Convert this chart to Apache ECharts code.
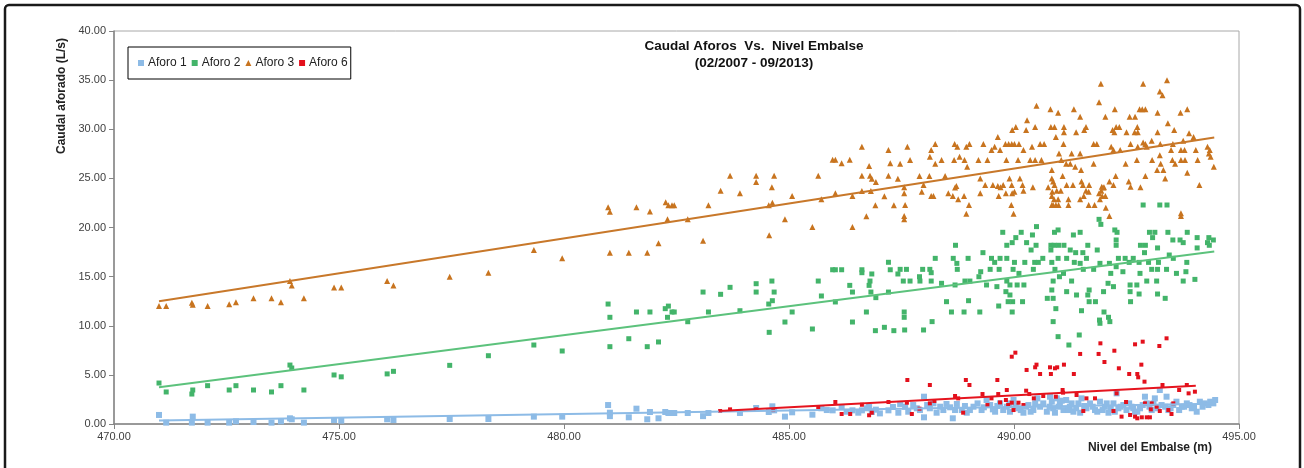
<!DOCTYPE html>
<html><head><meta charset="utf-8">
<script src="https://cdn.jsdelivr.net/npm/echarts@6/dist/echarts.min.js"></script>
<style>html,body{margin:0;padding:0;background:#fff}#c{width:1304px;height:468px}</style>
</head><body><div id="c"></div>
<script>
const titleLines = ['Caudal Aforos  Vs.  Nivel Embalse', '(02/2007 - 09/2013)'];
const yAxisTitle = 'Caudal aforado (L/s)';
const xAxisTitle = 'Nivel del Embalse (m)';
const seriesNames = ['Aforo 1', 'Aforo 2', 'Aforo 3', 'Aforo 6'];
const xTicks = [470, 475, 480, 485, 490, 495];
const yTicks = [0, 5, 10, 15, 20, 25, 30, 35, 40];

const aforo1 = [
[471.0,0.92],[471.16,0.14],[471.73,0.14],[471.75,0.75],[472.08,0.14],[472.56,0.14],[472.71,0.27],[473.1,0.2],[473.5,0.14],[473.71,0.27],[473.91,0.58],[473.95,0.48],[474.22,0.14],[474.89,0.41],[475.05,0.34],[476.07,0.48],[476.21,0.41],[477.46,0.51],[478.32,0.51],[479.33,0.75],
[479.96,0.75],[480.98,1.93],[481.02,1.15],[481.02,0.8],[481.44,0.68],[481.61,1.56],[481.85,0.48],[481.91,1.22],[482.1,0.58],[482.25,1.22],[482.32,1.12],[482.4,1.12],[482.45,1.12],[482.75,1.12],[483.09,0.8],[483.21,1.12],[483.91,1.12],[484.27,1.63],[484.55,1.22],[484.63,1.8],[484.67,1.39],[484.91,0.75],[485.07,1.19],[485.52,0.95],[485.72,1.6],[485.97,1.39],[486.17,1.73],[486.41,1.39],[486.62,1.39],[486.78,1.73],[486.84,1.22],[486.93,1.46],[487.21,1.39],[487.31,1.73],
[485.84,1.42],[486.28,1.25],[486.54,1.15],[486.73,1.6],[487.02,1.08],[487.43,1.15],
[487.47,2.04],[487.58,1.76],[487.76,1.93],[487.91,1.42],[488.0,2.78],[488.0,0.68],[488.13,1.6],[488.21,2.1],[488.28,1.15],[488.43,1.42],[488.58,1.7],[488.64,0.58],[488.73,2.04],[488.84,1.42],[488.95,1.15],[489.1,1.76],[489.28,1.42],[489.39,2.44],[489.47,1.93],[489.58,1.25],[489.69,2.1],[489.84,1.76],[489.91,1.25],[489.99,2.44],[490.1,1.6],[490.21,1.15],[490.32,1.93],[490.43,1.42],[490.52,2.61],[490.58,1.76],[490.73,1.25],[490.8,2.78],[490.84,2.27],[490.87,1.6],[490.95,2.61],[491.02,2.1],[491.1,1.42],[491.16,2.44],[491.24,1.76],[491.32,1.25],[491.43,2.1],[491.5,2.61],[491.61,1.6],[491.69,2.1],[491.8,1.42],[491.91,2.27],[492.02,1.76],[492.1,1.15],[492.21,2.1],[492.28,3.12],[492.32,1.6],[492.43,1.93],[492.5,1.42],[492.61,1.76],[492.69,1.25],[492.8,1.6],[492.91,2.78],[492.95,2.1],[493.06,1.42],[493.13,2.61],[493.24,3.46],[493.28,1.93],[493.39,2.78],[493.43,1.42],[493.54,1.93],[493.61,2.27],[493.73,1.76],[493.84,2.1],[493.95,1.6],[494.06,1.25],[494.13,2.27],[494.24,2.1],[494.36,2.27],[494.43,2.1],
[487.65,1.25],[487.84,1.6],[488.07,1.93],[488.36,1.76],[488.5,2.04],[488.69,1.42],[488.91,1.83],[489.02,1.42],[489.19,2.1],[489.33,1.7],[489.53,1.49],[489.63,1.83],[489.76,1.42],[489.9,2.1],[490.04,1.83],[490.15,1.42],[490.27,1.76],[490.37,1.25],[490.47,2.1],[490.65,2.1],[490.79,1.76],[490.91,1.15],[490.99,1.76],[491.06,2.37],[491.21,1.42],[491.28,2.1],[491.38,1.6],[491.47,1.15],[491.56,1.83],[491.75,1.76],[491.85,1.25],[491.97,1.42],[492.06,2.1],[492.15,1.6],[492.24,1.25],[492.37,1.76],[492.56,2.1],[492.65,1.6],[492.74,1.25],[492.86,1.93],[493.01,1.76],[493.1,2.1],[493.19,1.6],[493.36,1.76],[493.48,1.6],[493.67,1.42],[493.78,1.76],[493.9,1.93],[494.0,1.76],[494.19,1.76],[494.32,1.93],[494.47,2.44]
];

const aforo2 = [
[471.0,4.17],[471.16,3.26],[471.73,3.05],[471.75,3.46],[472.08,3.9],[472.56,3.46],[472.71,3.9],[473.1,3.46],[473.5,3.26],[473.71,3.9],[473.91,6.0],[473.95,5.7],[474.22,3.46],[474.89,4.99],[475.05,4.8],[476.07,5.1],[476.21,5.36],[477.46,5.97],[478.32,6.95],[479.33,8.04],
[479.96,7.43],[480.98,12.21],[481.02,10.86],[481.02,7.87],[481.44,8.68],[481.61,11.4],[481.85,7.87],[481.91,11.4],[482.1,8.35],[482.25,11.74],[482.32,12.0],[482.3,10.86],[482.4,11.4],[482.45,11.4],[482.75,10.41],[483.09,13.43],[483.21,11.4],[483.48,13.2],[483.69,13.91],[483.91,11.53],[484.27,14.28],[484.27,13.43],[484.56,9.33],[484.55,12.21],[484.63,12.55],[484.62,14.55],[484.67,13.43],[484.91,10.38],[485.07,11.4],[485.52,9.67],[485.65,14.55],[485.72,13.03],[485.97,15.7],[486.03,15.7],[486.03,12.42],[486.17,15.7],[486.35,14.11],[486.41,13.43],[486.41,10.38],[486.62,15.7],[486.62,15.4],[486.72,11.4],[486.78,14.11],[486.8,14.55],[486.84,15.27],[486.82,13.43],[486.92,9.5],[486.93,12.86],[487.12,9.84],[487.21,16.46],[487.21,13.43],[487.25,15.7],[487.33,9.5],[487.42,15.27],[487.9,14.99],[488.16,15.4],
[492.87,22.29],[493.24,22.29],[493.4,22.29],[491.89,20.83],[491.93,20.32],[490.5,20.09],[489.75,19.51],[490.04,18.97],[490.16,19.51],[490.41,19.24],[490.9,19.51],[490.98,19.75],[491.32,19.24],[491.47,19.51],[492.24,19.75],[492.29,19.51],[493.01,19.51],[493.13,19.51],[493.42,19.51],[493.85,19.51],[493.69,18.73],[494.07,18.97],[494.33,18.97],[494.43,18.73],[489.84,18.19],[489.96,18.46],[490.28,18.46],[490.49,18.19],[490.82,18.19],[490.89,18.19],[490.99,18.19],[491.11,18.19],[491.64,18.19],[492.27,18.73],[492.27,18.19],[492.81,18.19],[492.92,18.19],[493.08,18.97],[493.53,18.73],[493.76,18.46],[488.7,18.19],[489.31,17.44],[490.38,17.71],[490.82,17.71],[491.25,17.71],[491.37,17.44],[491.53,17.44],[491.85,17.71],[492.9,17.44],[493.19,17.92],[494.07,17.92],[494.34,18.19],[494.3,18.46],
[488.25,16.86],[488.65,16.86],[488.73,16.35],[488.98,16.86],[489.5,16.86],[489.57,16.45],[489.69,16.86],[489.84,16.86],[490.01,16.45],[490.24,16.45],[490.46,16.45],[490.54,16.45],[490.64,16.86],[490.84,16.45],[490.98,16.86],[491.17,16.86],[491.34,16.45],[491.47,16.35],[491.61,16.86],[491.91,16.35],[492.12,16.35],[492.32,16.86],[492.47,16.86],[492.56,16.45],[492.65,16.86],[492.78,16.45],[492.99,16.45],[493.21,16.45],[493.45,17.2],[493.54,16.86],[493.84,16.45],[492.27,16.01],
[487.47,15.74],[487.61,15.74],[487.97,15.74],[488.13,15.74],[488.74,15.74],[489.26,15.5],[489.47,15.74],[489.67,15.74],[489.98,15.74],[490.11,15.33],[490.43,15.74],[490.91,15.74],[491.1,15.33],[491.54,15.74],[491.77,15.74],[492.15,15.33],[492.42,15.5],[492.8,15.33],[493.06,15.74],[493.19,15.74],[493.39,15.74],[493.61,15.33],[493.82,15.5],
[487.54,14.55],[487.69,14.55],[487.91,14.55],[488.16,14.55],[488.39,14.32],[488.69,14.15],[488.91,14.55],[489.02,14.55],[489.22,14.99],[489.39,14.15],[489.62,13.98],[489.84,14.55],[489.91,14.15],[490.07,14.15],[490.22,14.15],[490.87,14.55],[491.01,14.99],[491.28,14.55],[491.67,13.64],[492.09,14.32],[492.21,13.98],[492.58,14.15],[492.73,14.15],[492.95,14.55],[493.17,14.55],[493.76,14.55],[494.02,14.72],
[489.82,13.47],[489.91,13.13],[490.84,13.64],[491.17,13.47],[490.87,12.79],[491.39,13.13],[491.64,13.13],[491.67,12.45],[491.99,13.47],[492.58,13.47],[492.78,13.23],[493.19,13.23],[493.36,12.79],[488.5,12.45],[488.99,12.55],[489.66,12.01],[489.87,12.45],[489.97,12.45],[490.19,12.45],[490.74,12.79],[491.81,12.45],[492.59,12.45],
[487.56,11.4],[487.56,10.86],[488.61,11.4],[488.89,11.4],[489.24,11.4],[489.96,11.4],[490.93,11.74],[491.5,11.53],[492.0,11.4],[492.1,10.86],[491.9,10.58],[491.91,10.25],[492.13,10.42],[490.87,10.42],[488.18,10.42],[487.57,9.57],[487.99,9.57],
[490.98,8.89],[491.45,9.06],[491.22,8.04]
];

const aforo3 = [
[471.0,12.0],[471.16,12.0],[471.73,12.35],[471.75,12.15],[472.08,12.0],[472.56,12.2],[472.71,12.4],[473.1,12.8],[473.5,12.8],[473.71,12.4],[473.91,14.55],[473.95,14.1],[474.22,12.8],[474.89,13.9],[475.05,13.9],[476.07,14.55],[476.21,14.1],[477.46,15.0],[478.32,15.4],[479.33,17.7],
[479.96,16.86],[481.02,17.44],[481.44,17.44],[481.85,17.44],[482.1,18.39],[483.09,18.66],[484.56,19.2],
[480.98,22.05],[481.02,21.61],[481.61,22.05],[481.91,21.64],[482.26,22.56],[482.32,22.26],[482.3,20.83],[482.4,22.26],[482.45,22.26],[482.75,20.83],[483.21,22.26],[483.48,23.75],[483.69,25.27],[483.91,23.48],[484.27,25.27],[484.27,24.63],[484.55,22.26],[484.63,22.53],[484.62,24.09],[484.67,25.27],[484.91,20.83],[485.07,23.21],[485.52,20.05],[485.65,25.27],[485.72,22.87],[485.97,26.9],[486.03,26.9],[486.03,23.48],[486.17,26.53],[486.35,26.9],[486.41,23.21],[486.41,20.05],[486.62,28.22],[486.62,25.27],[486.62,23.72],[486.72,21.14],[486.78,26.26],[486.8,25.27],[486.84,24.97],[486.82,23.72],[486.92,22.26],[486.93,24.63],[487.12,23.17],[487.21,27.89],[487.21,25.27],[487.25,26.53],[487.33,22.26],[487.42,24.97],
[491.93,34.64],[492.87,34.64],[493.4,34.98],[493.24,33.83],[493.3,33.45],[491.89,32.74],[490.5,32.4],[490.81,32.03],[490.98,31.69],[491.33,32.03],[491.47,31.28],[492.24,32.03],[492.03,31.28],[492.57,31.28],[492.69,31.28],[492.79,32.03],[492.85,32.03],[492.92,32.03],[493.19,31.69],[493.7,31.69],[493.85,32.03],
[490.29,30.91],[490.04,30.23],[489.96,29.92],[490.27,29.92],[490.47,30.23],[490.82,30.23],[490.9,30.23],[491.11,30.23],[491.38,29.69],[491.56,29.92],[491.6,30.23],[490.93,29.21],[491.11,29.69],[489.64,29.21],[492.19,29.92],[492.27,30.23],[492.34,30.23],[492.23,29.69],[492.5,29.69],[492.68,29.69],[492.74,30.23],[492.75,29.69],[493.19,29.69],[493.42,30.6],[493.56,29.92],[493.89,29.59],[493.99,29.21],
[487.63,28.23],[488.25,28.5],[488.16,27.89],[488.68,28.5],[488.74,28.23],[488.94,28.23],[489.01,28.5],[489.32,28.5],[489.5,27.89],[489.57,28.23],[489.69,27.89],[489.81,28.5],[489.88,28.5],[489.95,28.5],[490.01,28.5],[490.11,28.5],[490.21,27.89],[490.4,28.23],[490.58,28.5],[490.67,28.5],[491.0,27.52],[491.1,28.5],[491.28,27.52],[491.47,27.52],[491.77,28.5],[491.84,28.5],[492.16,28.23],[492.21,27.89],[492.36,27.89],[492.59,28.5],[492.75,28.23],[492.87,28.64],[492.92,28.5],[493.06,28.84],[492.95,28.23],[493.25,28.5],[493.53,28.5],[493.76,28.84],[493.49,27.89],[493.71,27.89],[493.79,27.89],[494.04,27.89],[494.3,28.23],[494.35,27.89],[494.33,27.52],[494.37,27.21],
[487.47,26.5],[487.69,26.87],[488.13,27.21],[488.25,26.5],[488.39,26.87],[488.67,26.87],[488.79,27.21],[488.9,26.87],[488.96,26.19],[489.21,26.87],[489.41,26.87],[489.83,26.87],[490.09,26.87],[490.36,26.87],[490.47,26.87],[490.61,26.87],[490.84,25.85],[491.05,26.87],[491.16,26.5],[491.25,26.5],[491.36,26.19],[491.49,25.85],[491.77,26.5],[492.48,26.5],[492.73,26.87],[493.07,26.87],[493.24,27.35],[493.26,26.5],[493.18,25.85],[493.32,25.85],[493.52,26.87],[493.58,26.5],[493.71,26.87],[493.8,26.87],[493.85,25.58],[494.08,26.87],[494.44,26.19],
[487.9,25.24],[488.12,25.24],[488.47,25.24],[489.25,25.0],[488.72,24.23],[488.69,24.06],[489.36,24.33],[489.53,24.33],[489.64,24.23],[489.7,24.09],[489.76,24.33],[489.9,25.0],[489.95,24.33],[490.13,25.0],[490.19,24.33],[490.42,24.09],[490.76,24.09],[490.84,25.0],[490.87,24.67],[490.9,24.33],[491.08,25.24],[491.17,24.33],[491.31,24.33],[491.5,24.67],[491.53,24.33],[491.67,24.33],[491.95,24.16],[492.0,24.09],[492.12,24.67],[492.21,24.33],[492.26,25.24],[492.55,24.67],[492.59,24.16],[492.81,24.09],[492.92,25.24],[493.36,25.0],[494.12,24.33],[487.56,24.09],[487.99,24.33],
[487.56,23.48],[487.95,23.65],[488.16,23.21],[488.21,23.21],[488.54,23.48],[488.64,23.21],[488.76,22.87],[488.89,23.21],[489.25,23.48],[489.66,23.21],[489.82,23.48],[489.96,23.48],[490.01,23.65],[490.21,23.75],[490.85,23.65],[490.95,23.75],[491.04,23.75],[490.84,23.21],[490.98,22.87],[490.89,22.87],[491.21,22.87],[491.47,22.87],[491.55,23.21],[491.6,23.75],[491.66,23.65],[491.89,23.48],[491.96,23.21],[491.91,22.87],[492.03,23.21],[491.94,23.75],[491.98,24.06],
[487.58,22.29],[487.56,21.17],[487.56,20.83],[489.0,22.29],[488.94,21.41],[489.94,22.29],[489.99,21.41],[490.84,22.29],[490.87,22.29],[490.93,22.29],[490.99,22.29],[491.21,22.29],[491.66,22.29],[491.79,22.29],[492.04,22.02],[492.12,21.17],[493.71,21.17],[493.71,21.44]
];

const aforo6 = [
[483.47,1.32],[483.69,1.49],[484.27,1.49],[484.65,1.42],[485.65,1.7],[486.03,2.24],[486.17,1.02],[486.36,1.02],[486.62,1.96],[486.78,0.89],[486.84,1.15],[487.21,2.24],[487.9,1.56],
[487.63,4.48],[488.13,3.97],[488.93,4.48],[489.01,3.97],[489.63,4.48],[489.84,3.46],[489.95,6.85],[490.03,7.26],[490.28,5.5],[490.47,5.77],[490.5,6.04],[490.58,5.09],[490.8,5.77],[490.82,5.09],[490.91,5.67],[490.96,5.77],[491.11,6.04],[491.33,5.09],[491.47,7.13],[491.88,7.13],[491.92,8.21],[492.01,6.31],[492.23,7.46],[492.33,5.67],[492.56,5.09],[492.69,8.11],[492.74,5.09],[492.76,4.75],[492.83,6.04],[492.86,8.38],[492.9,4.31],[493.23,7.94],[493.39,8.72],[493.3,3.97],[493.67,3.46],[493.84,3.97],[493.88,3.12],[494.02,3.29],[490.27,3.39],[491.08,3.46],[491.39,2.95],[492.28,3.12],
[487.62,2.17],[487.73,1.02],[488.13,2.1],[488.23,2.34],[488.69,2.85],[488.76,2.61],[488.87,1.15],[489.3,3.05],[489.41,1.93],[489.5,2.61],[489.65,3.05],[489.69,2.2],[489.82,2.44],[489.87,1.93],[489.95,2.17],[489.99,1.42],[490.1,2.17],[490.21,1.93],[490.34,3.05],[490.44,2.61],[490.65,2.85],[490.93,2.78],[491.09,3.19],[491.54,1.32],[491.61,2.61],[491.8,2.61],[492.21,1.32],[492.39,0.75],[492.49,2.24],[492.58,0.92],[492.69,0.75],[492.74,0.58],[492.84,0.68],[492.95,0.68],[493.02,0.68],[492.91,2.1],[493.04,1.49],[493.17,1.76],[493.24,1.32],[493.43,1.42],[493.5,1.02],[493.54,2.1],[493.06,2.1]
];

// trendline endpoints
const trend1 = [[471.0,0.35],[494.45,2.05]];
const trend2 = [[471.0,3.73],[494.45,17.55]];
const trend3 = [[471.0,12.5],[494.45,29.15]];
const trend6 = [[483.44,1.32],[494.04,3.9]];

const colors = {
  a1: '#8DBBE6', a2: '#43B46A', a3: '#C8741F', a6: '#E3101C',
  t1: '#8DBBE6', t2: '#5CC27C', t3: '#C8782A', t6: '#E5141E'
};

const chart = echarts.init(document.getElementById('c'), null, {renderer: 'canvas'});
const fontFam = 'Arial, "Liberation Sans", sans-serif';

function scatter(name, data, color, symbol, size) {
  return {name, type: 'scatter', data, symbol, symbolSize: size,
    itemStyle: {color, opacity: 1}, emphasis: {disabled: true}, z: 2};
}
function trend(data, color) {
  return {type: 'line', data, showSymbol: false, symbol: 'none', silent: true,
    lineStyle: {color, width: 2}, z: 3, emphasis: {disabled: true}};
}

chart.setOption({
  animation: false,
  backgroundColor: '#ffffff',
  grid: {left: 114, right: 65, top: 31, bottom: 44, show: true, borderColor: '#a8a8a8', borderWidth: 1, backgroundColor: 'transparent'},
  legend: {
    data: seriesNames, left: 128, top: 47, orient: 'horizontal',
    itemWidth: 6, itemHeight: 6, itemGap: 5, selectedMode: false,
    borderColor: '#000', borderWidth: 1, padding: [10, 3, 10, 10],
    textStyle: {fontFamily: fontFam, fontSize: 12, color: '#222', padding: [0, 0, 0, -1]}
  },
  xAxis: {
    type: 'value', min: xTicks[0], max: xTicks[xTicks.length - 1], interval: 5,
    axisLine: {show: true, onZero: false, lineStyle: {color: '#868686', width: 1.5}},
    axisTick: {show: true, length: 5, lineStyle: {color: '#868686'}},
    axisLabel: {fontFamily: fontFam, fontSize: 11, color: '#404040', margin: 7, formatter: v => v.toFixed(2)},
    splitLine: {show: false}
  },
  yAxis: {
    type: 'value', min: yTicks[0], max: yTicks[yTicks.length - 1], interval: 5,
    axisLine: {show: true, lineStyle: {color: '#868686', width: 1.5}},
    axisTick: {show: true, length: 5, lineStyle: {color: '#868686'}},
    axisLabel: {fontFamily: fontFam, fontSize: 11, color: '#404040', margin: 8, formatter: v => v.toFixed(2)},
    splitLine: {show: false}
  },
  graphic: [
    {type: 'rect', shape: {x: 5, y: 5, width: 1295, height: 490, r: 4}, style: {fill: 'none', stroke: '#1a1a1a', lineWidth: 2.5}, silent: true, z: 100},
    {type: 'text', x: 754, y: 39, style: {text: titleLines[0], textAlign: 'center', textVerticalAlign: 'top', fontFamily: fontFam, fontWeight: 'bold', fontSize: 13.5, fill: '#111'}},
    {type: 'text', x: 754, y: 56, style: {text: titleLines[1], textAlign: 'center', textVerticalAlign: 'top', fontFamily: fontFam, fontWeight: 'bold', fontSize: 13.5, fill: '#111'}},
    {type: 'text', x: 62, y: 96, rotation: Math.PI / 2, style: {text: yAxisTitle, textAlign: 'center', textVerticalAlign: 'middle', fontFamily: fontFam, fontWeight: 'bold', fontSize: 12, fill: '#222'}},
    {type: 'text', x: 1212, y: 448, style: {text: xAxisTitle, textAlign: 'right', textVerticalAlign: 'middle', fontFamily: fontFam, fontWeight: 'bold', fontSize: 12, fill: '#222'}}
  ],
  series: [
    scatter(seriesNames[0], aforo1, colors.a1, 'rect', 6),
    scatter(seriesNames[1], aforo2, colors.a2, 'rect', 5),
    scatter(seriesNames[2], aforo3, colors.a3, 'triangle', 6),
    scatter(seriesNames[3], aforo6, colors.a6, 'rect', 4),
    trend(trend1, colors.t1),
    trend(trend2, colors.t2),
    trend(trend3, colors.t3),
    trend(trend6, colors.t6)
  ]
});
</script></body></html>
